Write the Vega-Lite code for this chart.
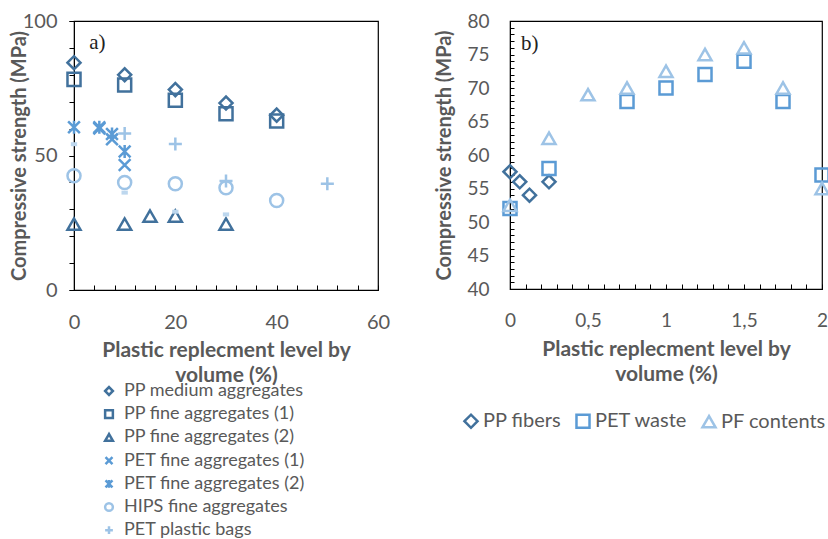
{
  "$schema": "https://vega.github.io/schema/vega-lite/v6.json",
  "background": "white",
  "padding": {"left": 8, "top": 10, "right": 5, "bottom": 0},
  "spacing": 43,
  "config": {
    "font": "Lato",
    "view": {"stroke": "black", "strokeWidth": 1.2},
    "axis": {
      "domainColor": "black", "tickColor": "black", "grid": false,
      "labelColor": "#595959", "labelFont": "Lato", "labelFontSize": 20,
      "titleFont": "Lato", "titleFontSize": 21, "titleFontWeight": "bold", "titleColor": "#595959",
      "labelFlush": false, "labelOverlap": false, "labelBound": false
    },
    "legend": {"labelFont": "Lato", "labelColor": "#595959", "padding": 0, "labelLimit": 400}
  },
  "hconcat": [
    {
      "width": 304, "height": 269,
      "resolve": {"axis": {"x": "independent", "y": "independent"}},
      "layer": [
        {
          "data": {"values": [
            {"series": "PP medium aggregates", "level": 0, "strength": 84.5},
            {"series": "PP medium aggregates", "level": 10, "strength": 80},
            {"series": "PP medium aggregates", "level": 20, "strength": 74.5},
            {"series": "PP medium aggregates", "level": 30, "strength": 69.5},
            {"series": "PP medium aggregates", "level": 40, "strength": 65},
            {"series": "PP fine aggregates (1)", "level": 0, "strength": 78.3},
            {"series": "PP fine aggregates (1)", "level": 10, "strength": 76.2},
            {"series": "PP fine aggregates (1)", "level": 20, "strength": 70.5},
            {"series": "PP fine aggregates (1)", "level": 30, "strength": 65.5},
            {"series": "PP fine aggregates (1)", "level": 40, "strength": 62.8},
            {"series": "PP fine aggregates (2)", "level": 0, "strength": 24.5},
            {"series": "PP fine aggregates (2)", "level": 10, "strength": 24.5},
            {"series": "PP fine aggregates (2)", "level": 15, "strength": 27.5},
            {"series": "PP fine aggregates (2)", "level": 20, "strength": 27.5},
            {"series": "PP fine aggregates (2)", "level": 30, "strength": 24.5},
            {"series": "PET fine aggregates (1)", "level": 5, "strength": 60},
            {"series": "PET fine aggregates (1)", "level": 7.5, "strength": 56},
            {"series": "PET fine aggregates (1)", "level": 10, "strength": 46.5},
            {"series": "PET fine aggregates (2)", "level": 0, "strength": 60.5},
            {"series": "PET fine aggregates (2)", "level": 5, "strength": 60.5},
            {"series": "PET fine aggregates (2)", "level": 7.5, "strength": 58},
            {"series": "PET fine aggregates (2)", "level": 10, "strength": 51.5},
            {"series": "HIPS fine aggregates", "level": 0, "strength": 42.5},
            {"series": "HIPS fine aggregates", "level": 10, "strength": 40},
            {"series": "HIPS fine aggregates", "level": 20, "strength": 39.5},
            {"series": "HIPS fine aggregates", "level": 30, "strength": 38},
            {"series": "HIPS fine aggregates", "level": 40, "strength": 33.3},
            {"series": "PET plastic bags", "level": 10, "strength": 58.2},
            {"series": "PET plastic bags", "level": 20, "strength": 54.3},
            {"series": "PET plastic bags", "level": 30, "strength": 40.5},
            {"series": "PET plastic bags", "level": 50, "strength": 39.5}
          ]},
          "mark": {"type": "point", "filled": false, "strokeWidth": 2.5, "size": 170, "opacity": 1},
          "encoding": {
            "x": {"field": "level", "type": "quantitative",
              "scale": {"domain": [0, 60], "nice": false},
              "axis": {"orient": "bottom", "values": [0, 20, 40, 60], "ticks": false, "tickSize": 0, "labelPadding": 22,
                "title": ["Plastic replecment level by", "volume (%)"], "titlePadding": 7, "titleLineHeight": 25}},
            "y": {"field": "strength", "type": "quantitative",
              "scale": {"domain": [0, 100], "nice": false},
              "axis": {"orient": "left", "values": [0, 50, 100], "tickSize": 5, "labelPadding": 12,
                "title": "Compressive strength (MPa)", "titleFontSize": 20, "titlePadding": -7}},
            "color": {"field": "series", "type": "nominal",
              "scale": {"domain": ["PP medium aggregates", "PP fine aggregates (1)", "PP fine aggregates (2)", "PET fine aggregates (1)", "PET fine aggregates (2)", "HIPS fine aggregates", "PET plastic bags"],
                "range": ["#41719C", "#41719C", "#41719C", "#5B9BD5", "#5B9BD5", "#9DC3E6", "#9DC3E6"]},
              "legend": {"orient": "none", "legendX": 26, "legendY": 361, "title": null,
                "labelFontSize": 18, "symbolSize": 60, "symbolStrokeWidth": 2.5, "rowPadding": 5.2, "labelOffset": 6}},
            "shape": {"field": "series", "type": "nominal",
              "scale": {"domain": ["PP medium aggregates", "PP fine aggregates (1)", "PP fine aggregates (2)", "PET fine aggregates (1)", "PET fine aggregates (2)", "HIPS fine aggregates", "PET plastic bags"],
                "range": ["diamond", "square", "triangle-up", "M-0.9,-0.9L0.9,0.9M0.9,-0.9L-0.9,0.9", "M-0.9,-0.9L0.9,0.9M0.9,-0.9L-0.9,0.9M0,-1L0,1", "circle", "M-1,0L1,0M0,-1L0,1"]},
              "legend": {"orient": "none", "legendX": 26, "legendY": 361, "title": null}}
          }
        },
        {
          "data": {"values": [
            {"level": 0, "strength": 54.2},
            {"level": 10, "strength": 36.2},
            {"level": 20, "strength": 29.1},
            {"level": 30, "strength": 28.1}
          ]},
          "mark": {"type": "point", "filled": false, "strokeWidth": 4, "size": 40, "shape": "M-1,0L1,0", "color": "#BDD7EE", "opacity": 1},
          "encoding": {
            "x": {"field": "level", "type": "quantitative",
              "axis": {"orient": "bottom", "values": [0,4,8,12,16,20,24,28,32,36,40,44,48,52,56,60], "labels": false, "domain": false, "tickSize": -5, "title": null}},
            "y": {"field": "strength", "type": "quantitative",
              "axis": {"orient": "left", "values": [0,10,20,30,40,50,60,70,80,90,100], "labels": false, "domain": false, "tickSize": 5, "title": null}}
          }
        },
        {
          "data": {"values": [{}]},
          "mark": {"type": "text", "font": "Liberation Serif", "fontSize": 21, "align": "left", "baseline": "middle", "color": "#222222"},
          "encoding": {
            "x": {"datum": 3, "type": "quantitative", "axis": null},
            "y": {"datum": 92, "type": "quantitative", "axis": null},
            "text": {"value": "a)"}
          }
        }
      ]
    },
    {
      "width": 312, "height": 268,
      "resolve": {"axis": {"x": "independent", "y": "independent"}},
      "layer": [
        {
          "data": {"values": [
            {"series": "PP fibers", "level": 0, "strength": 57.5},
            {"series": "PP fibers", "level": 0.0625, "strength": 56},
            {"series": "PP fibers", "level": 0.125, "strength": 54},
            {"series": "PP fibers", "level": 0.25, "strength": 56},
            {"series": "PET waste", "level": 0, "strength": 52},
            {"series": "PET waste", "level": 0.25, "strength": 58},
            {"series": "PET waste", "level": 0.75, "strength": 68},
            {"series": "PET waste", "level": 1.0, "strength": 70},
            {"series": "PET waste", "level": 1.25, "strength": 72},
            {"series": "PET waste", "level": 1.5, "strength": 74},
            {"series": "PET waste", "level": 1.75, "strength": 68},
            {"series": "PET waste", "level": 2.0, "strength": 57}
          ]},
          "mark": {"type": "point", "filled": false, "strokeWidth": 2.5, "size": 170, "opacity": 1, "clip": false},
          "encoding": {
            "x": {"field": "level", "type": "quantitative",
              "scale": {"domain": [0, 2], "nice": false},
              "axis": {"orient": "bottom", "values": [0, 0.5, 1, 1.5, 2], "ticks": false, "tickSize": 0, "labelPadding": 22,
                "labelExpr": "replace(format(datum.value, '~g'), '.', ',')",
                "labelFontSize": 19,
                "title": ["Plastic replecment level by", "volume (%)"], "titlePadding": 8, "titleLineHeight": 25}},
            "y": {"field": "strength", "type": "quantitative",
              "scale": {"domain": [40, 80], "nice": false},
              "axis": {"orient": "left", "values": [40, 45, 50, 55, 60, 65, 70, 75, 80], "ticks": false, "tickSize": 0, "labelPadding": 21,
                "labelFontSize": 19,
                "title": "Compressive strength (MPa)", "titleFontSize": 20, "titlePadding": 12}},
            "color": {"field": "series", "type": "nominal",
              "scale": {"domain": ["PP fibers", "PET waste", "PF contents"], "range": ["#41719C", "#5B9BD5", "#9DC3E6"]},
              "legend": {"orient": "none", "direction": "horizontal", "legendX": -49, "legendY": 390, "title": null,
                "labelFontSize": 20, "symbolSize": 170, "symbolStrokeWidth": 2.5, "columnPadding": 9, "labelOffset": 2}},
            "shape": {"field": "series", "type": "nominal",
              "scale": {"domain": ["PP fibers", "PET waste", "PF contents"], "range": ["diamond", "square", "triangle-up"]},
              "legend": {"orient": "none", "direction": "horizontal", "legendX": -49, "legendY": 390, "title": null}}
          }
        },
        {
          "data": {"values": [
            {"series": "PF contents", "level": 0, "strength": 52.5},
            {"series": "PF contents", "level": 0.25, "strength": 62.5},
            {"series": "PF contents", "level": 0.5, "strength": 69},
            {"series": "PF contents", "level": 0.75, "strength": 70},
            {"series": "PF contents", "level": 1.0, "strength": 72.5},
            {"series": "PF contents", "level": 1.25, "strength": 75},
            {"series": "PF contents", "level": 1.5, "strength": 76},
            {"series": "PF contents", "level": 1.75, "strength": 70},
            {"series": "PF contents", "level": 2.0, "strength": 55}
          ]},
          "mark": {"type": "point", "filled": false, "strokeWidth": 2.5, "size": 170, "opacity": 1, "clip": false},
          "encoding": {
            "x": {"field": "level", "type": "quantitative",
              "axis": {"orient": "bottom", "values": [0,0.1,0.2,0.3,0.4,0.5,0.6,0.7,0.8,0.9,1,1.1,1.2,1.3,1.4,1.5,1.6,1.7,1.8,1.9,2], "labels": false, "domain": false, "tickSize": -5, "title": null}},
            "y": {"field": "strength", "type": "quantitative",
              "axis": {"orient": "left", "values": [40,41,42,43,44,45,46,47,48,49,50,51,52,53,54,55,56,57,58,59,60,61,62,63,64,65,66,67,68,69,70,71,72,73,74,75,76,77,78,79,80], "labels": false, "domain": false, "tickSize": -4, "title": null}},
            "color": {"field": "series", "type": "nominal"},
            "shape": {"field": "series", "type": "nominal"}
          }
        },
        {
          "data": {"values": [{}]},
          "mark": {"type": "text", "font": "Liberation Serif", "fontSize": 21, "align": "left", "baseline": "middle", "color": "#222222"},
          "encoding": {
            "x": {"datum": 0.07, "type": "quantitative", "axis": null},
            "y": {"datum": 76.5, "type": "quantitative", "axis": null},
            "text": {"value": "b)"}
          }
        }
      ]
    }
  ],
  "resolve": {"scale": {"color": "independent", "shape": "independent"}}
}
